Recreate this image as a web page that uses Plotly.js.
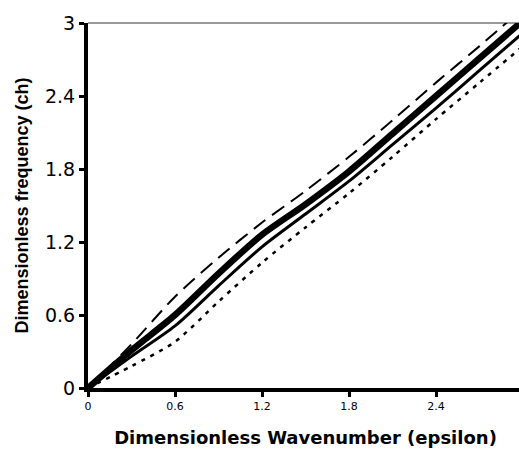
<!DOCTYPE html>
<html>
<head>
<meta charset="utf-8">
<script src="https://cdn.plot.ly/plotly-3.0.1.min.js"></script>
<style>
html, body { margin: 0; padding: 0; overflow: hidden; background: #fff; }
#chart { width: 527px; height: 450px; }
</style>
</head>
<body>
<div id="chart"></div>
<script>
// Dimensionless wavenumber (epsilon)
const epsilon = [0, 0.3, 0.6, 0.9, 1.2, 1.5, 1.8, 2.1, 2.4, 2.7, 3.0];
// Dimensionless frequency curves
const dashedSeries = [0, 0.36, 0.75, 1.07, 1.36, 1.62, 1.90, 2.20, 2.51, 2.81, 3.12];
const thickSeries  = [0, 0.31, 0.60, 0.94, 1.26, 1.51, 1.78, 2.09, 2.40, 2.71, 3.02];
const thinSeries   = [0, 0.26, 0.51, 0.84, 1.16, 1.43, 1.70, 2.00, 2.30, 2.61, 2.92];
const dottedSeries = [0, 0.18, 0.38, 0.71, 1.03, 1.32, 1.60, 1.90, 2.21, 2.51, 2.81];
const tickVals = [0, 0.6, 1.2, 1.8, 2.4, 3];
const tickText = ['0', '0.6', '1.2', '1.8', '2.4', '3'];

const mk = (y, width, dash) => ({
  x: epsilon, y: y, type: 'scatter', mode: 'lines',
  line: { color: '#000', width: width, dash: dash, shape: 'spline', smoothing: 0.8 },
  hoverinfo: 'none', showlegend: false, cliponaxis: true
});

const data = [
  mk(dashedSeries, 2, '15px,8px'),
  mk(thickSeries, 6.5, 'solid'),
  mk(thinSeries, 3, 'solid'),
  mk(dottedSeries, 2.5, '4px,6px')
];

const layout = {
  width: 527, height: 450,
  margin: { l: 88, r: 4, t: 23, b: 62 },
  paper_bgcolor: '#fff', plot_bgcolor: '#fff',
  showlegend: false,
  font: { family: 'DejaVu Sans, Arial, sans-serif', color: '#000' },
  xaxis: {
    range: [0, 3], tickvals: tickVals, ticktext: tickText,
    showgrid: false, zeroline: false,
    showline: true, linecolor: '#000', linewidth: 4,
    ticks: 'outside', ticklen: 5, tickwidth: 3, tickcolor: '#000',
    tickfont: { size: 11, family: 'DejaVu Sans, Arial, sans-serif' },
    title: { text: 'Dimensionless Wavenumber (epsilon)', font: { size: 18, family: 'DejaVu Sans, Arial, sans-serif', weight: 'bold' }, standoff: 20 }
  },
  yaxis: {
    range: [0, 3], tickvals: tickVals, ticktext: tickText,
    showgrid: false, zeroline: false,
    showline: true, linecolor: '#000', linewidth: 4,
    ticks: 'outside', ticklen: 5, tickwidth: 3, tickcolor: '#000',
    tickfont: { size: 19, family: 'DejaVu Sans, Arial, sans-serif' },
    title: { text: 'Dimensionless frequency (ch)', font: { size: 18, family: 'Liberation Sans, Arial, sans-serif', weight: 'bold' }, standoff: 13 }
  },
  shapes: [{
    type: 'line', xref: 'paper', yref: 'paper', x0: 0, x1: 1, y0: 1, y1: 1,
    line: { color: '#999', width: 2 }, layer: 'below'
  }]
};

Plotly.newPlot('chart', data, layout, { displayModeBar: false, staticPlot: true });
</script>
</body>
</html>
